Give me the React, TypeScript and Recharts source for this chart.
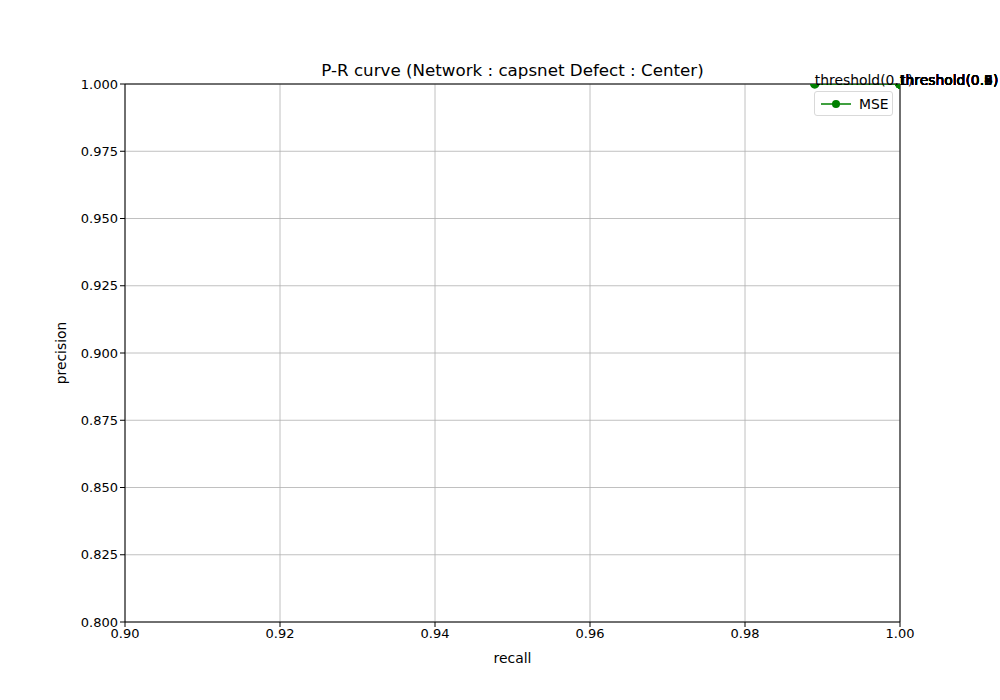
import { CartesianGrid, Line, LineChart, XAxis, YAxis, ReferenceLine, LabelList, Label } from 'recharts'

const thresholds = ['0.1', '0.2', '0.3', '0.4', '0.5', '0.6', '0.7', '0.8', '0.9']
const recall = [0.989, 1, 1, 1, 1, 1, 1, 1, 1]
const precision = [1, 1, 1, 1, 1, 1, 1, 1, 1]
const xTicks = [0.9, 0.92, 0.94, 0.96, 0.98, 1.0]
const yTicks = [0.8, 0.825, 0.85, 0.875, 0.9, 0.925, 0.95, 0.975, 1.0]

const data = thresholds.map((t, i) => ({ t, recall: recall[i], precision: precision[i] }))

const font = 'DejaVu Sans, sans-serif'
const tick = { fill: '#000', fontSize: 13, fontFamily: font }

function ThresholdLabel(props: any) {
  const { x, y, value } = props
  return (
    <text x={x} y={y} dy={1} fontSize={13.9} fontFamily={font} fill="#000">
      {`threshold(${value})`}
    </text>
  )
}

export default function App() {
  return (
    <div style={{ position: 'absolute', left: 0, top: 0, width: 1000, height: 700, background: '#fff' }}>
      <div style={{ position: 'absolute', top: 60, width: 1000, paddingLeft: 25, textAlign: 'center', fontFamily: font, fontSize: 16.7, boxSizing: 'border-box' }}>
        <span>P-R curve (Network : capsnet Defect : Center)</span>
      </div>
      <LineChart width={1000} height={700} data={data} margin={{ top: 84, right: 100, bottom: 0, left: 0 }} style={{ position: 'absolute', left: 0, top: 0, overflow: 'visible' }}>
        <CartesianGrid stroke="#b0b0b0" strokeWidth={0.8} verticalValues={xTicks} horizontalValues={yTicks} />
        <XAxis type="number" dataKey="recall" domain={[0.9, 1]} ticks={xTicks} allowDataOverflow height={78}
          tickFormatter={(v: number) => v.toFixed(2)} tick={tick} tickSize={5} stroke="#000" tickLine={{ stroke: '#000' }}>
          <Label value="recall" position="insideTop" offset={31} style={{ fill: '#000', fontSize: 13.9, fontFamily: font }} />
        </XAxis>
        <YAxis type="number" domain={[0.8, 1]} ticks={yTicks} allowDataOverflow width={125}
          tickFormatter={(v: number) => v.toFixed(3)} tick={tick} tickSize={5} stroke="#000" tickLine={{ stroke: '#000' }}>
          <Label value="precision" angle={-90} position="insideLeft" offset={61} style={{ fill: '#000', fontSize: 13.9, fontFamily: font, textAnchor: 'middle' }} />
        </YAxis>
        <ReferenceLine x={1} stroke="#000" ifOverflow="visible" />
        <ReferenceLine y={1} stroke="#000" ifOverflow="visible" />
        <Line dataKey="precision" stroke="green" strokeWidth={1.5} isAnimationActive={false}
          dot={{ r: 4, fill: 'green', stroke: 'green' }}>
          <LabelList dataKey="t" content={ThresholdLabel} />
        </Line>
      </LineChart>
      <div style={{ position: 'absolute', left: 814, top: 91, width: 77, height: 23, border: '1px solid #d9d9d9', borderRadius: 3, background: 'rgba(255,255,255,0.8)', fontFamily: font, fontSize: 13.9, display: 'flex', alignItems: 'center' }}>
        <svg width={40} height={14} style={{ marginLeft: 4 }}>
          <line x1={2} y1={7} x2={32} y2={7} stroke="green" strokeWidth={1.5} />
          <circle cx={17} cy={7} r={4} fill="green" />
        </svg>
        <span>MSE</span>
      </div>
    </div>
  )
}
